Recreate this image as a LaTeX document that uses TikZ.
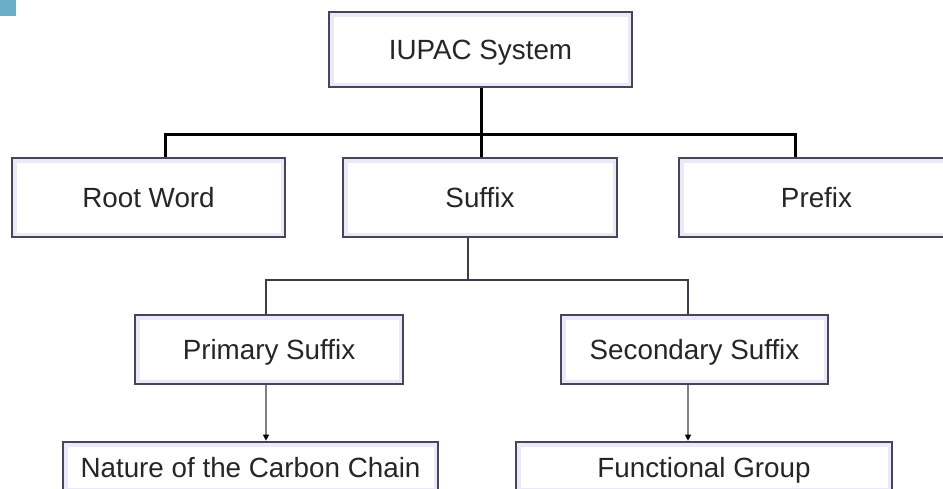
\documentclass[tikz,border=0pt]{standalone}
\usepackage{fontspec}
\setmainfont{Liberation Sans}
\usetikzlibrary{arrows.meta}
\definecolor{edgegray}{HTML}{46465A}
\definecolor{glowlav}{HTML}{E9E9F7}
\definecolor{linkgray}{HTML}{3C3C4A}
\definecolor{tipblue}{HTML}{6AADC9}
\newcommand{\boxheight}{79pt}
\newcommand{\lowheight}{69pt}
\tikzstyle{chart}=[fill=white,text=black!85,draw=edgegray,line width=2.6pt,shape=rectangle,
                   inner sep=0pt,text height=20pt,text depth=0pt,font=\fontsize{27.8}{33}\selectfont,
                   path picture={\draw[glowlav,line width=9pt] (path picture bounding box.south west)
                                 rectangle (path picture bounding box.north east);}]
\tikzstyle{trunk}=[draw=black,line width=3pt]
\tikzstyle{branch}=[draw=linkgray,line width=2.6pt]
\tikzstyle{feed}=[draw=black!50,line width=1.2pt,-{Triangle[length=6pt,width=6pt,color=black]}]

\begin{document}
\begin{tikzpicture}[x=1pt,y=-1pt]
\useasboundingbox (0,0) rectangle (943,488);
\fill [tipblue] (0,0) rectangle (16,16);

\node [chart, minimum width=303pt, minimum height=75pt] (iupac) at (480.5,49.5) {IUPAC System};

\node [chart, minimum width=273pt, minimum height=\boxheight] (root) at (148.5,197.5) {Root Word};
\node [chart, minimum width=274pt, minimum height=\boxheight] (suffix) at (480,197.5) {Suffix};
\node [chart, minimum width=275pt, minimum height=\boxheight] (prefix) at (816.5,197.5) {Prefix};

\node [chart, minimum width=268pt, minimum height=\lowheight] (primary) at (269,349.5) {Primary Suffix};
\node [chart, minimum width=267pt, minimum height=\lowheight] (secondary) at (694.5,349.5) {Secondary Suffix};

\node [chart, minimum width=375pt, minimum height=50pt] (nature) at (250.5,467) {Nature of the Carbon Chain};
\node [chart, minimum width=376pt, minimum height=50pt] (functional) at (704,467) {Functional Group};

\coordinate (bar1) at (481,134);
\coordinate (bar2) at (468,280);

\draw [trunk] (iupac.south -| bar1) -- (suffix.north -| bar1);
\draw [trunk] ([xshift=16.5pt]root.north) |- (bar1) -| ([xshift=-21.5pt]prefix.north);

\draw [branch] ([xshift=-12pt]suffix.south) -- (bar2);
\draw [branch] ([xshift=-3pt]primary.north) |- (bar2) -| ([xshift=-6.5pt]secondary.north);

\draw [feed] ([xshift=-3pt]primary.south) -- ([xshift=-3pt]primary.south |- nature.north);
\draw [feed] ([xshift=-6.5pt]secondary.south) -- ([xshift=-6.5pt]secondary.south |- functional.north);
\end{tikzpicture}
\end{document}
